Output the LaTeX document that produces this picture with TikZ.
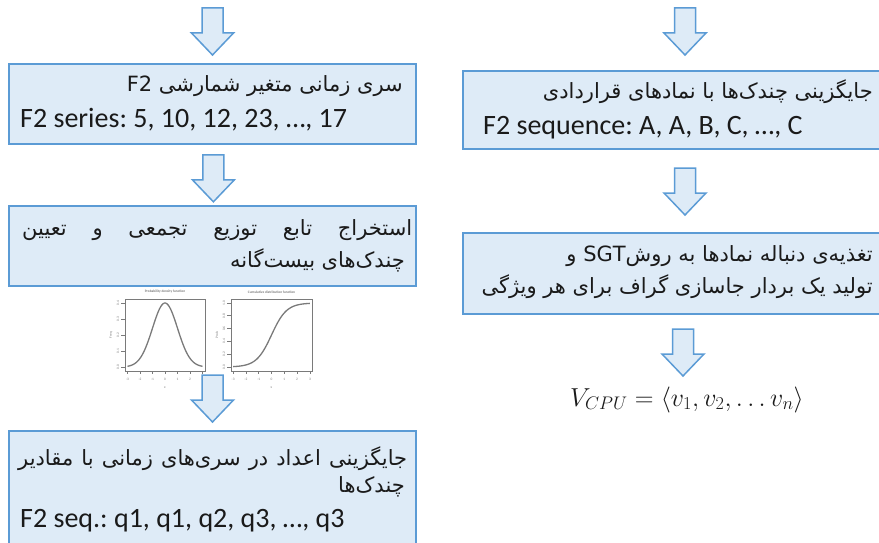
\documentclass[tikz,border=0pt]{standalone}
\usepackage{fix-cm}
\usepackage{fontspec}
\setmainfont{Carlito}
\newfontfamily\fa[Script=Arabic]{DejaVu Sans}
\TeXXeTstate=1
\usetikzlibrary{calc}
\definecolor{boxfill}{HTML}{DEEBF7}
\definecolor{boxline}{HTML}{5B9BD5}
\definecolor{txt}{HTML}{1A1A1A}
\definecolor{plotc}{HTML}{7A7A7A}
\tikzset{
 pbox/.style={draw=boxline, line width=1.8pt, fill=boxfill, inner sep=0pt, anchor=north west},
 fatext/.style={font=\fa\fontsize{21}{24}\selectfont, text=txt, inner sep=0pt, anchor=base east},
 entext/.style={font=\fontsize{28}{30}\selectfont\frenchspacing, text=txt, inner sep=0pt, anchor=base west},
 arrowsty/.style={draw=boxline, line width=1.5pt, fill=boxfill, line join=miter},
 barrow/.pic={\draw[arrowsty] (-10.5,0) -- (-10.5,25) -- (-21,25) -- (0,47) -- (21,25) -- (10.5,25) -- (10.5,0) -- cycle;},
 tinyt/.style={font=\fontsize{3.5}{4}\selectfont, text=plotc, inner sep=0pt},
}
\begin{document}
\begin{tikzpicture}[x=1pt,y=-1pt]
\useasboundingbox (0,0) rectangle (879,543);
\clip (0,0) rectangle (879,543);
% ---------------- left column
\pic at (212.5,8) {barrow};
\node[pbox, minimum width=407pt, minimum height=80pt] (b1) at (8,63) {};
\node[fatext] (b1a) at (403,92) {\beginR سری زمانی متغیر شمارشی \beginL F2\endL\endR};
\node[entext] (b1b) at (20,128) {F2 series: 5, 10, 12, 23, …, 17};

\pic at ($(b1.south)+(1,10)$) {barrow};
\node[pbox, minimum width=407pt, minimum height=80pt] (b2) at (8,205) {};
\node[fatext, anchor=base west] (b2a) at (22,235) {\hbox to 390pt{\beginR استخراج\hfill تابع\hfill توزیع\hfill تجمعی\hfill و\hfill تعیین\endR}};
\node[fatext] (b2b) at (405,267) {\beginR چندک^^^^200cهای بیست^^^^200cگانه\endR};

% small plots
\begin{scope}[draw=plotc, line width=0.8pt]
\node[tinyt, font=\fontsize{3.5}{4}\bfseries] (t1) at (165,292) {Probability density function};
\node[tinyt, font=\fontsize{3.5}{4}\bfseries] (t2) at (271.5,292) {Cumulative distribution function};
\draw (125,299) rectangle (205,371);
\draw (231,299) rectangle (312,371);
\draw[line width=1.3pt] plot[domain=-3:3, samples=60, smooth] ({165+\x*12.5}, {367-64*exp(-((\x)^2)/2)});
\draw[line width=1.3pt] plot[domain=-3:3, samples=60, smooth] ({271.5+\x*12.8}, {367-64/(1+exp(-1.702*\x))});
\foreach \i in {-3,...,3}{
  \draw ({165+\i*12.5},371) -- ({165+\i*12.5},374);
  \node[tinyt] at ({165+\i*12.5},379) {\i};
  \draw ({271.5+\i*12.8},371) -- ({271.5+\i*12.8},374);
  \node[tinyt] at ({271.5+\i*12.8},379) {\i};
}
\foreach \v/\l in {0/0.0,1/0.1,2/0.2,3/0.3,4/0.4}{
  \draw (125,{367-\v*16}) -- (121,{367-\v*16});
  \node[tinyt, rotate=90] at (118,{367-\v*16}) {\l};
}
\foreach \v/\l in {0/0.0,1/0.2,2/0.4,3/0.6,4/0.8,5/1.0}{
  \draw (231,{367-\v*12.8}) -- (227,{367-\v*12.8});
  \node[tinyt, rotate=90] at (224,{367-\v*12.8}) {\l};
}
\node[tinyt] at (165,388) {x};
\node[tinyt] at (271.5,388) {x};
\node[tinyt, rotate=90] at (111,335) {Freq};
\node[tinyt, rotate=90] at (217,335) {Prob};
\end{scope}

\pic at (212.5,375) {barrow};
\node[pbox, minimum width=407pt, minimum height=140pt] (b4) at (8,430) {};
\node[fatext, anchor=base west] (b4a) at (18,465) {\hbox to 389pt{\beginR جایگزینی\hfill اعداد\hfill در\hfill سری^^^^200cهای\hfill زمانی\hfill با\hfill مقادیر\endR}};
\node[fatext] (b4b) at (405,492) {\beginR چندک^^^^200cها\endR};
\node[entext] (b4c) at (20,527) {F2 seq.: q1, q1, q2, q3, …, q3};

% ---------------- right column
\pic at (685,8) {barrow};
\node[pbox, minimum width=440pt, minimum height=78pt] (r1) at (462,70) {};
\node[fatext] (r1a) at (873,99) {\beginR جایگزینی چندک^^^^200cها با نمادهای قراردادی\endR};
\node[entext] (r1b) at (483,134) {F2 sequence: A, A, B, C, …, C};

\pic at (685,168) {barrow};
\node[pbox, minimum width=440pt, minimum height=81pt] (r2) at (462,232) {};
\node[fatext] (r2a) at (873,261) {\beginR تغذیه^^^^200cی دنباله نمادها به روش\beginL SGT\endL{} و\endR};
\node[fatext] (r2b) at (873,293) {\beginR تولید یک بردار جاسازی گراف برای هر ویژگی\endR};

\pic at (683,329) {barrow};
\node[font=\fontsize{26}{30}\selectfont, text=txt, anchor=base, inner sep=0pt] (vcpu) at (687,406) {$V_{CPU} = \langle v_1, v_2, \ldots v_n\rangle$};
\end{tikzpicture}
\end{document}
